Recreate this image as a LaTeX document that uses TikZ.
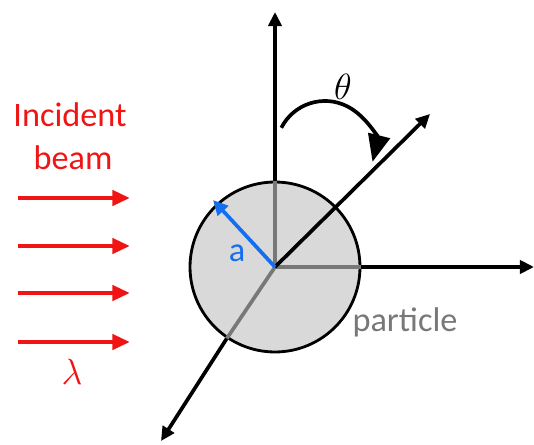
\documentclass[tikz,border=0pt]{standalone}
\usepackage{fontspec}
\setmainfont{Carlito}
\usetikzlibrary{arrows.meta}
\definecolor{beamred}{RGB}{240, 20, 20}
\definecolor{radblue}{RGB}{20, 110, 240}
\definecolor{ptgray}{RGB}{120, 120, 120}

\begin{document}
\begin{tikzpicture}[x=0.02cm, y=0.02cm, font=\fontsize{19.5}{23}\selectfont,
    axis/.style={line width=2.1pt, -{Triangle[length=8pt, width=7.5pt]}},
    inaxis/.style={line width=2.1pt, ptgray},
    beam/.style={line width=2.8pt, beamred, -{Triangle[length=10pt, width=8.5pt]}}]
  \useasboundingbox (0, 0) rectangle (534, 444);

  \node[circle, draw, line width=1.6pt, fill=black!15, minimum size=3.4cm, inner sep=0pt] (ptcl) at (275, 177) {};
  \coordinate (O) at (ptcl.center);
  \coordinate (top) at (275, 432);
  \coordinate (right) at (534, 177);
  \coordinate (scat) at (430, 330);
  \coordinate (low) at (161, 3);
  \coordinate (rim) at (213, 244);

  \draw[inaxis] (O) -- (ptcl.north);
  \draw[inaxis] (O) -- (ptcl.east);
  \draw[inaxis] (O) -- (ptcl.236.8);
  \draw[axis] (ptcl.north) -- (top);
  \draw[axis] (ptcl.east) -- (right);
  \draw[axis] (ptcl.236.8) -- (low);
  \draw[axis] (O) -- (scat);
  \draw[line width=2.1pt, radblue, -{Triangle[length=8.5pt, width=8pt]}] (O) -- (rim);
  \node[radblue] (alabel) at (237, 191) {a};

  % scattering angle
  \draw[line width=2.1pt, -{Triangle[length=15.5pt, width=12.5pt]}] (325, 294) ++(153:49) arc[start angle=153, end angle=-14, radius=49];
  \node (theta) at (343, 357) {$\theta$};

  \node[beamred] (inc) at (70, 329) {Incident};
  \node[beamred] (bm) at (73, 286) {beam};
  \foreach \yy [count=\i] in {246, 198, 151, 102} {
    \coordinate (b\i) at (18, \yy);
    \coordinate (e\i) at (130, \yy);
    \draw[beam] (b\i) -- (e\i);
  }
  \node[beamred] (lam) at (72, 72) {$\lambda$};
  \node[ptgray] (plabel) at (405, 122) {particle};
\end{tikzpicture}
\end{document}
